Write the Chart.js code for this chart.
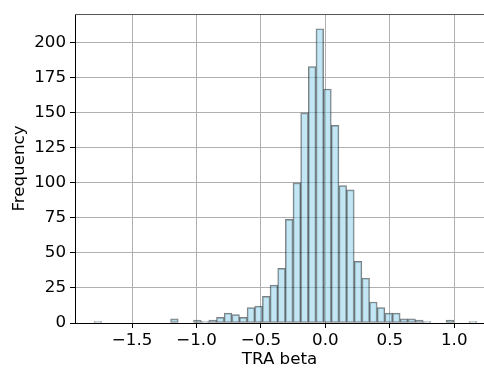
<!DOCTYPE html>
<html>
<head>
<meta charset="utf-8">
<script src="https://cdn.jsdelivr.net/npm/chart.js@4.4.0/dist/chart.umd.min.js"></script>
<style>
  html, body { margin: 0; padding: 0; background: #fff; overflow: hidden; }
  #wrap { width: 484px; height: 369px; position: relative; }
</style>
</head>
<body>
<div id="wrap"><canvas id="c" width="484" height="369"></canvas></div>
<script>
// Histogram of TRA beta: 50 equal-width bins
const binStart = -1.795;
const binWidth = 0.05938;
const counts = [
  1, 0, 0, 0, 0, 0, 0, 0, 0, 0,
  3, 0, 0, 2, 1, 2, 4, 7, 6, 4,
  11, 12, 19, 27, 39, 74, 100, 150, 183, 210,
  167, 141, 98, 95, 44, 32, 15, 11, 7, 7,
  3, 3, 2, 1, 0, 0, 2, 0, 0, 1
];
const xTickValues = [-1.5, -1.0, -0.5, 0.0, 0.5, 1.0];
const yTickValues = [0, 25, 50, 75, 100, 125, 150, 175, 200];
const xTitle = 'TRA beta';
const yTitle = 'Frequency';

const binCenters = counts.map((_, i) => binStart + binWidth * (i + 0.5));
const points = counts.map((v, i) => ({ x: binCenters[i], y: v === 0 ? null : v }));

const FONT = 'DejaVu Sans';
const FS = 16.7;

const topSpine = {
  id: 'topSpine',
  afterDraw(chart) {
    const { ctx, chartArea } = chart;
    ctx.save();
    ctx.strokeStyle = '#555';
    ctx.lineWidth = 1;
    ctx.beginPath();
    ctx.moveTo(chartArea.left, chartArea.top + 0.5);
    ctx.lineTo(chartArea.right, chartArea.top + 0.5);
    ctx.stroke();
    ctx.restore();
  }
};

new Chart(document.getElementById('c'), {
  type: 'bar',
  data: {
    datasets: [{
      data: points,
      backgroundColor: 'rgba(135,206,235,0.5)',
      borderColor: 'rgba(0,0,0,0.5)',
      borderWidth: 1,
      borderSkipped: false,
      barPercentage: 1,
      categoryPercentage: 1,
      grouped: false
    }]
  },
  options: {
    responsive: false,
    animation: false,
    devicePixelRatio: 1,
    layout: { padding: { top: 10, right: 0, left: 0, bottom: 0 } },
    plugins: { legend: { display: false }, tooltip: { enabled: false } },
    scales: {
      x: {
        type: 'linear',
        offset: false,
        min: -1.943,
        max: 1.231,
        afterFit: s => { s.height = 46; },
        afterBuildTicks: s => { s.ticks = xTickValues.map(v => ({ value: v })); },
        ticks: {
          color: '#000',
          font: { family: FONT, size: FS },
          padding: 3,
          maxRotation: 0,
          autoSkip: false,
          callback: v => (v < 0 ? '\u2212' : '') + Math.abs(v).toFixed(1)
        },
        grid: { offset: false, color: '#b0b0b0', lineWidth: 1, tickColor: '#000', tickLength: 5, tickWidth: 1 },
        border: { color: '#000', width: 1 },
        title: {
          display: true, text: xTitle, color: '#000',
          font: { family: FONT, size: FS }, padding: { top: 0, bottom: -1 }
        }
      },
      y: {
        type: 'linear',
        min: 0,
        max: 220.5,
        afterFit: s => { s.width = 75; },
        afterBuildTicks: s => { s.ticks = yTickValues.map(v => ({ value: v })); },
        ticks: {
          color: '#000',
          font: { family: FONT, size: FS },
          padding: 4,
          autoSkip: false
        },
        grid: { color: '#b0b0b0', lineWidth: 1, tickColor: '#000', tickLength: 5, tickWidth: 1 },
        border: { color: '#000', width: 1 },
        title: {
          display: true, text: yTitle, color: '#000',
          font: { family: FONT, size: FS }, padding: { top: 10, bottom: 0 }
        }
      }
    }
  },
  plugins: [topSpine]
});
</script>
</body>
</html>
